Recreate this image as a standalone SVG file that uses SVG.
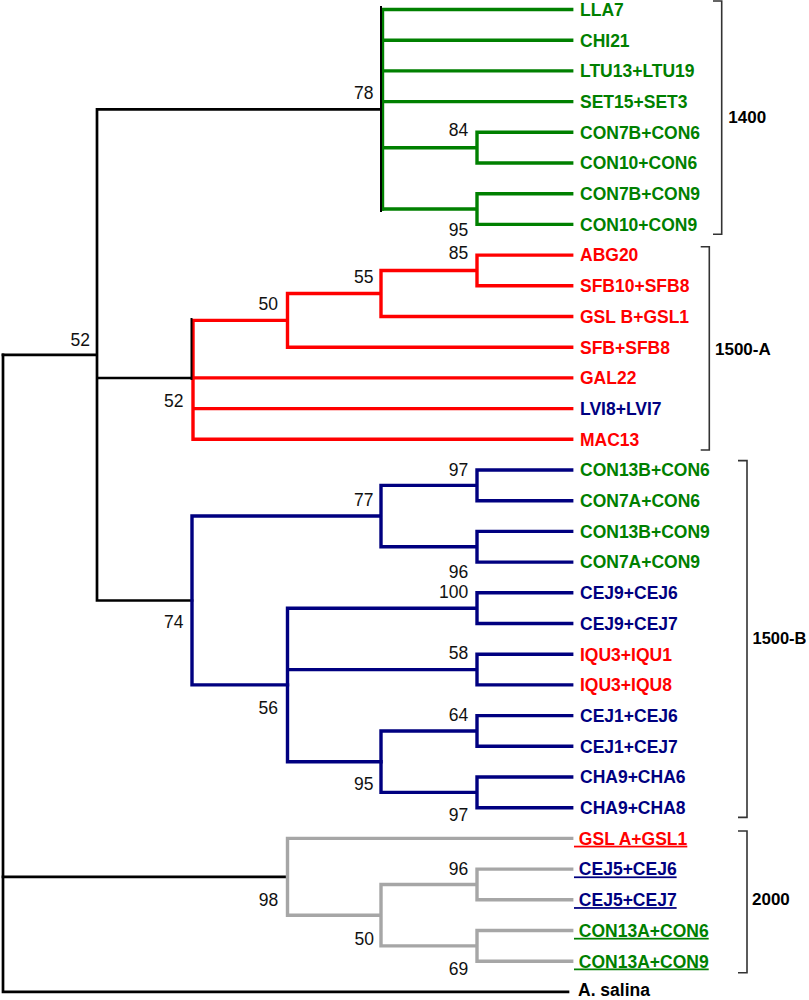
<svg xmlns="http://www.w3.org/2000/svg" width="809" height="1000" viewBox="0 0 809 1000">
<style>
  .k{fill:none;stroke:#000;stroke-width:2.7;stroke-linecap:square}
  .kt{fill:none;stroke:#000;stroke-width:2;stroke-linecap:square}
  .g{fill:none;stroke:#008000;stroke-width:3.4;stroke-linecap:square}
  .r{fill:none;stroke:#ff0000;stroke-width:3.4;stroke-linecap:square}
  .b{fill:none;stroke:#000080;stroke-width:3.4;stroke-linecap:square}
  .y{fill:none;stroke:#a6a6a6;stroke-width:3.4;stroke-linecap:square}
  .br{fill:none;stroke:#333;stroke-width:1.6}
  .t{font-family:"Liberation Sans",Arial,sans-serif;font-size:17.5px;font-weight:bold}
  .tg{fill:#008000}.tr{fill:#ff0000}.tb{fill:#000080}.tk{fill:#000}
  .u{text-decoration:underline}
  .n{font-family:"Liberation Sans",Arial,sans-serif;font-size:17.5px;fill:#111;text-anchor:end}
  .bl{font-family:"Liberation Sans",Arial,sans-serif;font-size:17px;font-weight:bold;fill:#000}
</style>
<g id="connectors">
  <path class="k" d="M3,354.9 V991.9 H568"/>
  <path class="k" d="M3,354.9 H97 M97,109.3 V600.5 M97,109.3 H381.5 M97,378 H192 M97,600.5 H192"/>
  <path class="k" d="M3,876.8 H287.5"/>
  <path class="g" d="M382.5,9.5 V209 M382.5,9.5 H571.7 M382.5,40.2 H571.7 M382.5,70.9 H571.7 M382.5,101.6 H571.7"/>
  <path class="g" d="M382.5,147.7 H477 M571.7,132.3 H477 V163 H571.7"/>
  <path class="g" d="M382.5,209 H477 M571.7,193.7 H477 V224.4 H571.7"/>
  <path class="kt" d="M381,7 V211"/>
  <path class="r" d="M571.7,255.1 H477 V285.8 H571.7 M477,270.5 H381 V316.5 H571.7 M381,293.5 H287.5 V347.2 H571.7 M287.5,320.4 H193 V439.3 H571.7 M193,377.9 H571.7 M193,408.6 H571.7"/>
  <path class="kt" d="M191.5,319 V379"/>
  <path class="b" d="M571.7,470 H477 V500.7 H571.7 M571.7,531.4 H477 V562.1 H571.7 M477,485.4 H381 V546.8 H477 M381,516 H192 V684.9 H287.5"/>
  <path class="b" d="M571.7,592.8 H477 V623.5 H571.7 M571.7,654.2 H477 V684.9 H571.7 M477,608.2 H287.5 V761.7 H381 M287.5,669.6 H477"/>
  <path class="b" d="M571.7,715.6 H477 V746.3 H571.7 M571.7,777 H477 V807.7 H571.7 M477,731 H381 V792.4 H477"/>
  <path class="y" d="M571.7,838.4 H287.5 V915.2 H381 M571.7,869.1 H477 V899.8 H571.7 M571.7,930.5 H477 V961.2 H571.7 M477,884.5 H381 V945.9 H477"/>
  <path class="br" d="M713,1 H721.7 V234.3 H713"/>
  <path class="br" d="M700.7,246.7 H709.3 V450 H700.7"/>
  <path class="br" d="M738,460.6 H747 V817.4 H738"/>
  <path class="br" d="M738,831 H747 V972.7 H738"/>
</g>
<g id="tips">
  <text class="t tg" x="580" y="15.8">LLA7</text>
  <text class="t tg" x="580" y="46.5">CHI21</text>
  <text class="t tg" x="580" y="77.2">LTU13+LTU19</text>
  <text class="t tg" x="580" y="107.9">SET15+SET3</text>
  <text class="t tg" x="580" y="138.6">CON7B+CON6</text>
  <text class="t tg" x="580" y="169.3">CON10+CON6</text>
  <text class="t tg" x="580" y="200">CON7B+CON9</text>
  <text class="t tg" x="580" y="230.7">CON10+CON9</text>
  <text class="t tr" x="580" y="261.4">ABG20</text>
  <text class="t tr" x="580" y="292.1">SFB10+SFB8</text>
  <text class="t tr" x="580" y="322.8">GSL B+GSL1</text>
  <text class="t tr" x="580" y="353.5">SFB+SFB8</text>
  <text class="t tr" x="580" y="384.2">GAL22</text>
  <text class="t tb" x="580" y="414.9">LVI8+LVI7</text>
  <text class="t tr" x="580" y="445.6">MAC13</text>
  <text class="t tg" x="580" y="476.3">CON13B+CON6</text>
  <text class="t tg" x="580" y="507">CON7A+CON6</text>
  <text class="t tg" x="580" y="537.7">CON13B+CON9</text>
  <text class="t tg" x="580" y="568.4">CON7A+CON9</text>
  <text class="t tb" x="580" y="599.1">CEJ9+CEJ6</text>
  <text class="t tb" x="580" y="629.8">CEJ9+CEJ7</text>
  <text class="t tr" x="580" y="660.5">IQU3+IQU1</text>
  <text class="t tr" x="580" y="691.2">IQU3+IQU8</text>
  <text class="t tb" x="580" y="721.9">CEJ1+CEJ6</text>
  <text class="t tb" x="580" y="752.6">CEJ1+CEJ7</text>
  <text class="t tb" x="580" y="783.3">CHA9+CHA6</text>
  <text class="t tb" x="580" y="814">CHA9+CHA8</text>
  <text class="t tr u" x="574" y="844.7">&#160;GSL A+GSL1</text>
  <text class="t tb u" x="574" y="875.4">&#160;CEJ5+CEJ6</text>
  <text class="t tb u" x="574" y="906.1">&#160;CEJ5+CEJ7</text>
  <text class="t tg u" x="574" y="936.8">&#160;CON13A+CON6</text>
  <text class="t tg u" x="574" y="967.5">&#160;CON13A+CON9</text>
  <text class="t tk" x="578" y="996">A. salina</text>
</g>
<g id="support">
  <text class="n" x="373.5" y="99.3">78</text>
  <text class="n" x="468.3" y="136">84</text>
  <text class="n" x="468.3" y="235.7">95</text>
  <text class="n" x="468.3" y="259">85</text>
  <text class="n" x="373.5" y="282.7">55</text>
  <text class="n" x="278" y="310">50</text>
  <text class="n" x="90" y="346">52</text>
  <text class="n" x="183.5" y="407">52</text>
  <text class="n" x="468.3" y="475.7">97</text>
  <text class="n" x="373.5" y="505.7">77</text>
  <text class="n" x="468.3" y="577.7">96</text>
  <text class="n" x="468.3" y="597.7">100</text>
  <text class="n" x="468.3" y="659">58</text>
  <text class="n" x="183.5" y="628">74</text>
  <text class="n" x="278" y="714.3">56</text>
  <text class="n" x="468.3" y="720.7">64</text>
  <text class="n" x="373.5" y="790">95</text>
  <text class="n" x="468.3" y="820.7">97</text>
  <text class="n" x="468.3" y="875">96</text>
  <text class="n" x="278.3" y="906">98</text>
  <text class="n" x="374" y="945">50</text>
  <text class="n" x="468.3" y="975">69</text>
</g>
<g id="groups">
  <text class="bl" x="728.3" y="123">1400</text>
  <text class="bl" x="715" y="354.5">1500-A</text>
  <text class="bl" x="752.5" y="644" textLength="54" lengthAdjust="spacingAndGlyphs">1500-B</text>
  <text class="bl" x="752" y="905">2000</text>
</g>
</svg>
